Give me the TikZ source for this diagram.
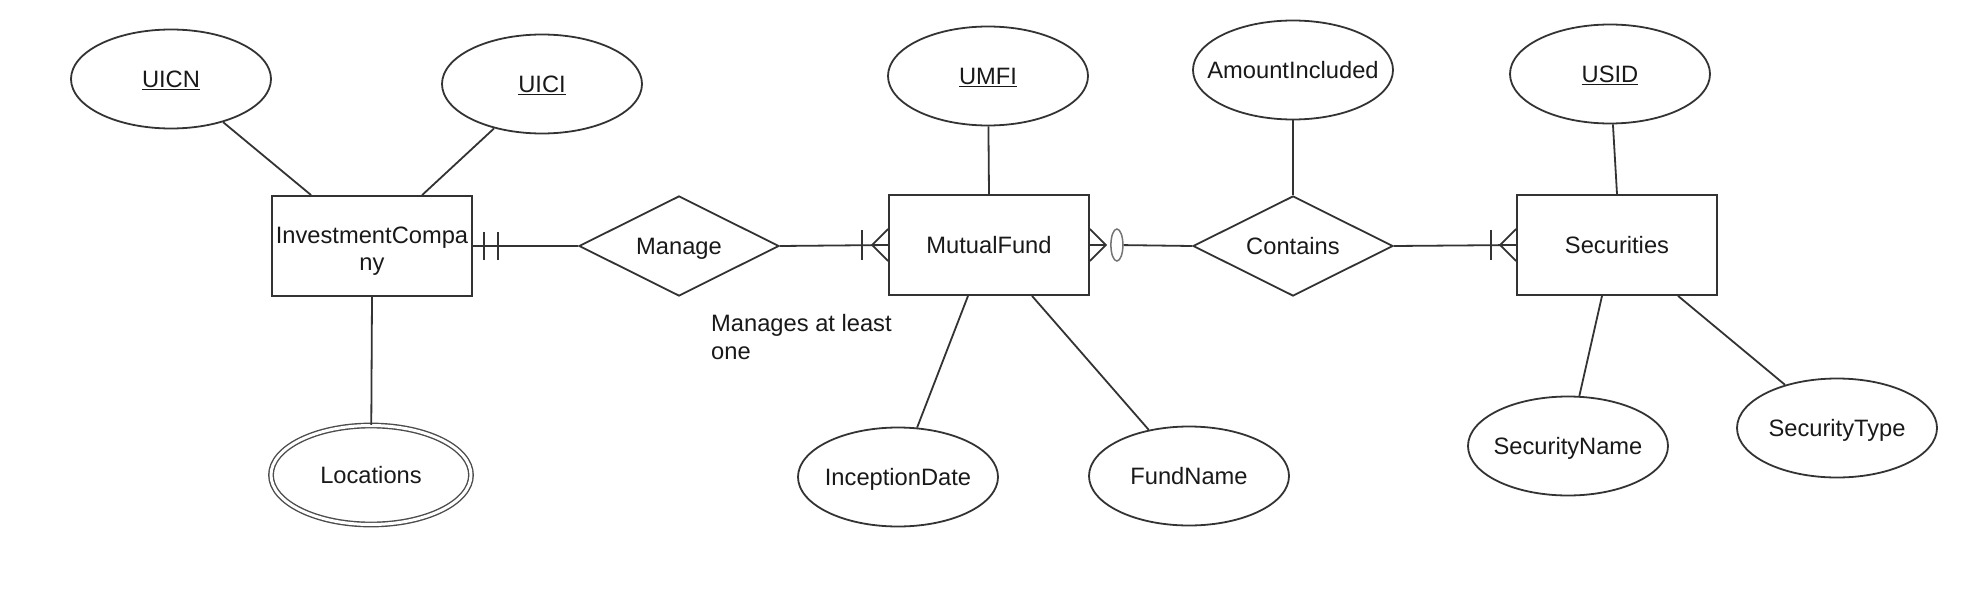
\documentclass[tikz,border=0pt]{standalone}
\usepackage{fontspec}
\setmainfont{Liberation Sans}
\usetikzlibrary{shapes.geometric,calc}
\begin{document}
\begin{tikzpicture}[x=1pt,y=-1pt,
  every node/.style={font=\fontsize{23.7}{27.5}\selectfont, text=black!90},
  ln/.style={draw=black!80, line width=1.8pt},
  oneline/.style={text height=17pt, text depth=0pt},
  entity/.style={ln, rectangle, minimum width=200pt, minimum height=100pt, inner sep=0pt, align=center},
  rel/.style={ln, oneline, diamond, aspect=2, minimum width=200pt, minimum height=100pt, inner sep=0pt},
  attr/.style={ln, oneline, ellipse, minimum width=200pt, minimum height=99pt, inner ysep=0pt, inner xsep=-20pt},
  mattr/.style={attr, double, double distance=3pt, line width=1.4pt, draw=black!70},
  conn/.style={draw=black!80, line width=1.8pt},
  optmark/.style={draw=black!55, line width=1.5pt, ellipse, minimum width=12pt, minimum height=32pt, inner sep=0pt},
]
\useasboundingbox (0,0) rectangle (1986,594);
% entities and relationships
\node[entity] (ic) at (372,246) {\rule{0pt}{27pt}InvestmentCompa\\ny};
\node[rel] (manage) at (679,246) {Manage};
\node[entity, oneline] (mf) at (989,245) {MutualFund};
\node[rel] (contains) at (1293,246) {Contains};
\node[entity, oneline] (sec) at (1617,245) {Securities};
% attributes
\node[attr] (uicn) at (171,79) {\underline{UICN}};
\node[attr] (uici) at (542,84) {\underline{UICI}};
\node[attr] (umfi) at (988,76) {\underline{UMFI}};
\node[attr] (amt) at (1293,70) {AmountIncluded};
\node[attr] (usid) at (1610,74) {\underline{USID}};
\node[mattr] (loc) at (371,475) {Locations};
\node[attr] (incep) at (898,477) {InceptionDate};
\node[attr] (fund) at (1189,476) {FundName};
\node[attr] (secname) at (1568,446) {SecurityName};
\node[attr] (sectype) at (1837,428) {SecurityType};
% note
\node[anchor=north west, inner sep=0pt, align=left, font=\fontsize{23.7}{28}\selectfont] (note) at (711,314) {Manages at least\\one};

% attribute connectors
\draw[conn] (uicn) -- ([xshift=40pt]ic.north west);
\draw[conn] (uici) -- ([xshift=151pt]ic.north west);
\draw[conn] (ic.south) -- (loc);
\draw[conn] (umfi) -- (mf.north);
\draw[conn] ([xshift=-21pt]mf.south) -- (incep);
\draw[conn] ([xshift=43pt]mf.south) -- (fund);
\draw[conn] (amt) -- (contains.north);
\draw[conn] (usid) -- (sec.north);
\draw[conn] ([xshift=-15pt]sec.south) -- (secname);
\draw[conn] ([xshift=61pt]sec.south) -- (sectype);

% InvestmentCompany -- Manage (exactly one)
\draw[conn] (ic.east) -- (manage.west);
\draw[conn] ([xshift=11pt,yshift=14pt]ic.east) -- ([xshift=11pt,yshift=-14pt]ic.east);
\draw[conn] ([xshift=25pt,yshift=14pt]ic.east) -- ([xshift=25pt,yshift=-14pt]ic.east);

% Manage -- MutualFund (one or many)
\draw[conn] (manage.east) -- (mf.west);
\draw[conn] ([yshift=16pt]mf.west) -- ([xshift=-16pt]mf.west) -- ([yshift=-16pt]mf.west);
\draw[conn] ([xshift=-26pt,yshift=15pt]mf.west) -- ([xshift=-26pt,yshift=-15pt]mf.west);

% MutualFund -- Contains (zero or many)
\draw[conn] ([yshift=16pt]mf.east) -- ([xshift=16pt]mf.east) -- ([yshift=-16pt]mf.east);
\draw[conn] (mf.east) -- ([xshift=16pt]mf.east);
\node[optmark] (zc) at ([xshift=27pt]mf.east) {};
\draw[conn] (zc) -- (contains.west);

% Contains -- Securities (one or many)
\draw[conn] (contains.east) -- (sec.west);
\draw[conn] ([yshift=16pt]sec.west) -- ([xshift=-16pt]sec.west) -- ([yshift=-16pt]sec.west);
\draw[conn] ([xshift=-25pt,yshift=15pt]sec.west) -- ([xshift=-25pt,yshift=-15pt]sec.west);
\end{tikzpicture}
\end{document}
